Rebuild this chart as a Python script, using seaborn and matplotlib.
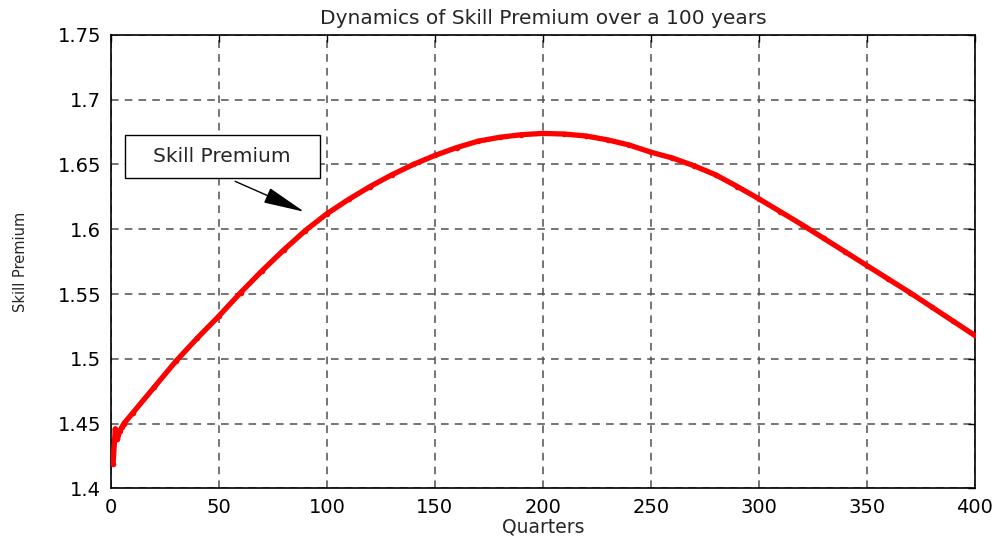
import matplotlib
matplotlib.use("Agg")
import matplotlib.pyplot as plt
import matplotlib.patches as mpatches
import seaborn as sns
import pandas as pd

# ---- data ----
quarters = [1, 2, 3, 4, 5, 6, 10, 20, 30, 40, 50, 60, 70, 80, 90, 100,
            110, 120, 130, 140, 150, 160, 170, 180, 190, 200,
            210, 220, 230, 240, 250, 260, 270, 280, 290, 300,
            310, 320, 330, 340, 350, 360, 370, 380, 390, 400]
skill_premium = [1.419, 1.446, 1.438, 1.444, 1.447, 1.450, 1.458, 1.478, 1.498,
                 1.516, 1.533, 1.551, 1.568, 1.584, 1.599, 1.612,
                 1.623, 1.633, 1.642, 1.650, 1.657, 1.663, 1.668, 1.671, 1.673, 1.674,
                 1.6735, 1.672, 1.669, 1.665, 1.6595, 1.655, 1.649, 1.642, 1.633, 1.6235,
                 1.6135, 1.6035, 1.593, 1.5825, 1.572, 1.5615, 1.551, 1.540, 1.529, 1.518]
x_ticks = [0, 50, 100, 150, 200, 250, 300, 350, 400]
y_ticks = [1.4, 1.45, 1.5, 1.55, 1.6, 1.65, 1.7, 1.75]
y_tick_labels = ["1.4", "1.45", "1.5", "1.55", "1.6", "1.65", "1.7", "1.75"]
title_text = "Dynamics of Skill Premium over a 100 years"
x_label = "Quarters"
y_label = "Skill Premium"
annotation_text = "Skill Premium"

df = pd.DataFrame({"Quarters": quarters, "SkillPremium": skill_premium})

sns.set_style("white")
plt.rcParams["font.family"] = ["DejaVu Sans"]

fig = plt.figure(figsize=(10.05, 5.38), dpi=100)
ax = fig.add_axes([0.1104, 0.0924, 0.8596, 0.8426])

sns.lineplot(data=df, x="Quarters", y="SkillPremium", ax=ax, color="red",
             linewidth=3.8, marker="o", markersize=4, markeredgewidth=0,
             sort=False, zorder=3)

ax.set_xlim(0, 400)
ax.set_ylim(1.4, 1.75)
ax.set_xticks(x_ticks)
ax.set_xticklabels([str(t) for t in x_ticks])
ax.set_yticks(y_ticks)
ax.set_yticklabels(y_tick_labels)
ax.tick_params(direction="in", top=True, right=True, length=5, width=1,
               labelsize=14, colors="black")
ax.tick_params(axis="x", pad=7)
ax.tick_params(axis="y", pad=7)

ax.grid(True, linestyle=(0, (5, 4)), color="#505050", linewidth=1.1)
for s in ax.spines.values():
    s.set_visible(True)
    s.set_color("black")
    s.set_linewidth(1.2)

ax.set_title(title_text, fontsize=14.5, pad=8)
ax.set_xlabel(x_label, fontsize=13.5, labelpad=0)
ax.set_ylabel(y_label, fontsize=10.5, labelpad=21)

# annotation text box with arrow
rect = mpatches.Rectangle((6.3, 1.6395), 90.3, 0.0329, transform=ax.transData,
                          facecolor="white", edgecolor="black", linewidth=1.0, zorder=4)
ax.add_patch(rect)
ax.text(51.5, 1.6565, annotation_text, ha="center", va="center", fontsize=14.5, zorder=5)
ax.annotate("", xy=(89.5, 1.6135), xytext=(57.5, 1.637),
            arrowprops=dict(arrowstyle="-|>,head_length=1.3,head_width=0.25",
                            color="black", lw=1.0, mutation_scale=20,
                            shrinkA=0, shrinkB=0), zorder=5)

fig.savefig("out.png", dpi=100)
